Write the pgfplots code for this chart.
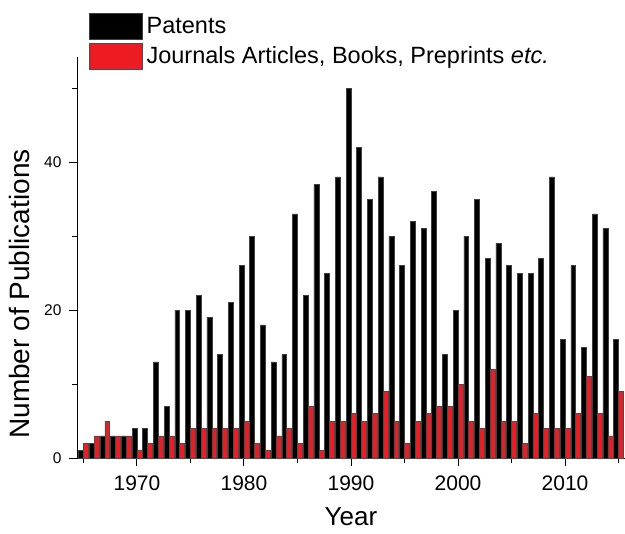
\documentclass[border=0pt]{standalone}
\usepackage{fontspec}
\setmainfont{Liberation Sans}
\usepackage{pgfplots}
\pgfplotsset{compat=1.18}
\usepackage{pgfplotstable}
\definecolor{barred}{RGB}{237,28,36}

\pgfplotstableread{
year pat jour
1965 1 2
1966 2 3
1967 3 5
1968 3 3
1969 3 3
1970 4 1
1971 4 2
1972 13 3
1973 7 3
1974 20 2
1975 20 4
1976 22 4
1977 19 4
1978 14 4
1979 21 4
1980 26 5
1981 30 2
1982 18 1
1983 13 3
1984 14 4
1985 33 2
1986 22 7
1987 37 1
1988 25 5
1989 38 5
1990 50 6
1991 42 5
1992 35 6
1993 38 9
1994 30 5
1995 26 2
1996 32 5
1997 31 6
1998 36 7
1999 14 7
2000 20 10
2001 30 5
2002 35 4
2003 27 12
2004 29 5
2005 26 5
2006 25 2
2007 25 6
2008 27 4
2009 38 4
2010 16 4
2011 26 6
2012 15 11
2013 33 6
2014 31 3
2015 16 9
}\datatable

\begin{document}
\begin{tikzpicture}
\begin{axis}[
  name=ax,
  scale only axis,
  width=548pt, height=401pt,
  xmin=1964.4, xmax=2015.6,
  ymin=0, ymax=54.2,
  ybar=0pt, bar width=0.46,
  axis lines*=left,
  axis line style={-, line width=1pt, black},
  tick align=outside,
  major tick length=8pt, minor tick length=5pt,
  every tick/.style={black, line width=1pt},
  xtick={1970,1980,...,2010},
  minor xtick={1965,1975,...,2015},
  ytick={0,20,40},
  minor ytick={10,30,50},
  /pgf/number format/assume math mode=true,
  /pgf/number format/set thousands separator={},
  xticklabel style={font=\fontsize{21}{21}\selectfont, anchor=base, yshift=-24pt},
  yticklabel style={font=\fontsize{15.5}{15.5}\selectfont, anchor=east, xshift=-4pt},
  xlabel={Year},
  ylabel={Number of Publications},
  xlabel style={font=\fontsize{26}{26}\selectfont, at={(axis description cs:0.5,-0.168)}, anchor=base},
  ylabel style={font=\fontsize{28}{28}\selectfont, at={(axis description cs:-0.0858,0.409)}, anchor=base},
  legend style={
    at={(axis description cs:0.0219,1.1097)}, anchor=north west,
    draw=none, fill=none, inner sep=0pt, outer sep=0pt,
    row sep=3pt,
    font=\fontsize{23.5}{23.5}\selectfont,
    /tikz/every odd column/.append style={column sep=2pt},
  },
  legend cell align=left,
  legend image code/.code={\draw[#1] (0pt,-13pt) rectangle (53pt,13pt);},
]
\addplot[fill=black, draw=black!75, line width=0.6pt] table[x=year, y=pat] {\datatable};
\addplot[fill=barred, draw=black!70, line width=0.6pt] table[x=year, y=jour] {\datatable};
\legend{Patents, {Journals Articles, Books, Preprints \textit{etc.}}}
\end{axis}
\pgfresetboundingbox
\path ([shift={(-77pt,-75pt)}]ax.south west) rectangle ([shift={(0pt,57pt)}]ax.north east);
\end{tikzpicture}
\end{document}
